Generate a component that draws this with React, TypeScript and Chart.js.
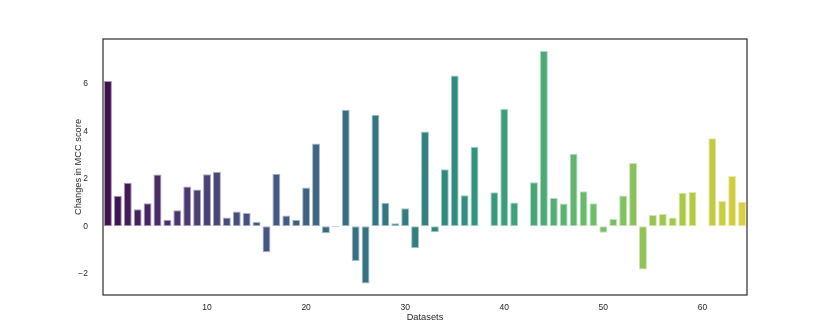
import React, { useEffect, useRef } from "react";
import { Chart, registerables } from "chart.js";

Chart.register(...registerables);

const categories: string[] = Array.from({ length: 65 }, (_, i) => String(i));

const mccChanges: (number | null)[] = [
  6.13, 1.29, 1.84, 0.72, 0.97, 2.18, 0.27, 0.68, 1.68, 1.55,
  2.19, 2.3, 0.37, 0.62, 0.56, 0.18, -1.1, 2.22, 0.45, 0.27,
  1.64, 3.49, -0.3, -0.04, 4.92, -1.47, -2.42, 4.7, 0.99, 0.13,
  0.76, -0.93, 4.0, -0.25, 2.4, 6.36, 1.31, 3.35, null, 1.44,
  4.96, 1.0, null, 1.86, 7.39, 1.19, 0.96, 3.06, 1.48, 0.97,
  -0.27, 0.31, 1.3, 2.67, -1.82, 0.48, 0.52, 0.37, 1.41, 1.45,
  null, 3.71, 1.07, 2.12, 1.03,
];

const yTickValues: number[] = [-2, 0, 2, 4, 6];
const xTickValues: number[] = [10, 20, 30, 40, 50, 60];
const xTitle = "Datasets";
const yTitle = "Changes in MCC score";

const FONT = "'Liberation Sans', Arial, sans-serif";
const VIRIDIS = ["#440154", "#482878", "#3e4a89", "#31688e", "#26828e", "#1f9e89", "#35b779", "#6dcd59", "#b4de2c", "#fde725"];

function hexToRgb(h: string): number[] {
  return [1, 3, 5].map((k) => parseInt(h.slice(k, k + 2), 16));
}

function viridis(t: number): number[] {
  const p = t * (VIRIDIS.length - 1);
  const i = Math.min(Math.floor(p), VIRIDIS.length - 2);
  const f = p - i;
  const a = hexToRgb(VIRIDIS[i]);
  const b = hexToRgb(VIRIDIS[i + 1]);
  return a.map((v, k) => v + (b[k] - v) * f);
}

function desaturate(rgb: number[], s: number): number[] {
  const [r, g, b] = rgb.map((v) => v / 255);
  const mx = Math.max(r, g, b), mn = Math.min(r, g, b);
  const l = (mx + mn) / 2;
  let h = 0, sat = 0;
  if (mx !== mn) {
    const d = mx - mn;
    sat = l > 0.5 ? d / (2 - mx - mn) : d / (mx + mn);
    if (mx === r) h = (g - b) / d + (g < b ? 6 : 0);
    else if (mx === g) h = (b - r) / d + 2;
    else h = (r - g) / d + 4;
    h /= 6;
  }
  sat *= s;
  const hue2rgb = (p: number, q: number, t: number) => {
    if (t < 0) t += 1;
    if (t > 1) t -= 1;
    if (t < 1 / 6) return p + (q - p) * 6 * t;
    if (t < 1 / 2) return q;
    if (t < 2 / 3) return p + (q - p) * (2 / 3 - t) * 6;
    return p;
  };
  if (sat === 0) return [l * 255, l * 255, l * 255];
  const q = l < 0.5 ? l * (1 + sat) : l + sat - l * sat;
  const p = 2 * l - q;
  return [hue2rgb(p, q, h + 1 / 3) * 255, hue2rgb(p, q, h) * 255, hue2rgb(p, q, h - 1 / 3) * 255];
}

const n = categories.length;
const fills = categories.map((_, i) => {
  const c = desaturate(viridis((i + 1) / (n + 1)), 0.75);
  return `rgb(${c.map(Math.round).join(",")})`;
});
const edges = categories.map((_, i) => {
  const c = desaturate(viridis((i + 1) / (n + 1)), 0.75).map((v) => v + (255 - v) * 0.55);
  return `rgb(${c.map(Math.round).join(",")})`;
});

const framePlugin = {
  id: "frame",
  afterDraw(chart: any) {
    const { ctx, chartArea } = chart;
    ctx.save();
    ctx.strokeStyle = "#333333";
    ctx.lineWidth = 1.25;
    ctx.strokeRect(chartArea.left, chartArea.top, chartArea.right - chartArea.left, chartArea.bottom - chartArea.top);
    ctx.fillStyle = "#262626";
    ctx.font = `9.3px ${FONT}`;
    ctx.textAlign = "center";
    ctx.textBaseline = "middle";
    ctx.fillText(xTitle, (chartArea.left + chartArea.right) / 2, chartArea.bottom + 22);
    ctx.translate(chartArea.left - 25, (chartArea.top + chartArea.bottom) / 2);
    ctx.rotate(-Math.PI / 2);
    ctx.fillText(yTitle, 0, 0);
    ctx.restore();
  },
};

export default function App() {
  const ref = useRef<HTMLCanvasElement | null>(null);
  useEffect(() => {
    if (!ref.current) return;
    const chart = new Chart(ref.current, {
      type: "bar",
      data: {
        labels: categories,
        datasets: [
          {
            data: mccChanges as any,
            backgroundColor: fills,
            borderColor: edges,
            borderWidth: 1,
            borderSkipped: false,
            barPercentage: 0.8,
            categoryPercentage: 1,
          },
        ],
      },
      options: {
        animation: false,
        responsive: false,
        maintainAspectRatio: false,
        layout: { padding: { left: 0, right: 83, top: 39, bottom: 0 } },
        plugins: { legend: { display: false }, tooltip: { enabled: false } },
        scales: {
          x: {
            type: "category",
            offset: true,
            grid: { display: false },
            border: { display: false },
            ticks: {
              autoSkip: false,
              maxRotation: 0,
              padding: 0,
              color: "#262626",
              font: { family: FONT, size: 8.5 },
              callback: (_v: any, i: number) => (xTickValues.includes(i) ? String(i) : ""),
            },
            afterFit: (s: any) => {
              s.height = 37;
            },
          },
          y: {
            min: -2.9,
            max: 7.9,
            grid: { display: false },
            border: { display: false },
            afterBuildTicks: (s: any) => {
              s.ticks = yTickValues.map((v) => ({ value: v }));
            },
            ticks: {
              padding: 7,
              color: "#262626",
              font: { family: FONT, size: 8.5 },
              callback: (v: any) => String(v).replace("-", "\u2212"),
            },
            afterFit: (s: any) => {
              s.width = 103;
            },
          },
        },
      },
      plugins: [framePlugin],
    });
    return () => chart.destroy();
  }, []);
  return (
    <div style={{ position: "fixed", left: 0, top: 0, width: 830, height: 332, background: "#fff" }}>
      <canvas ref={ref} width={830} height={332} style={{ display: "block" }} />
    </div>
  );
}
